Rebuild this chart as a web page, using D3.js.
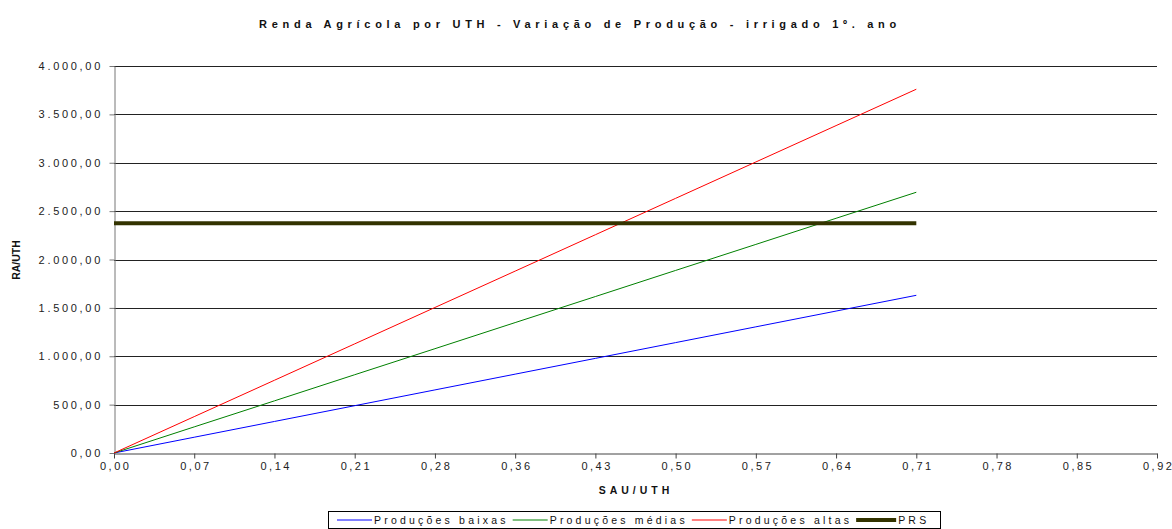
<!DOCTYPE html>
<html><head><meta charset="utf-8">
<script src="https://cdn.jsdelivr.net/npm/d3@7/dist/d3.min.js"></script>
<style>
body{margin:0;background:#fff;}
text{font-family:"Liberation Sans",Arial,sans-serif;}
</style></head>
<body><svg id="c" width="1172" height="529"></svg>
<script>
const categories = ["0,00","0,07","0,14","0,21","0,28","0,36","0,43","0,50","0,57","0,64","0,71","0,78","0,85","0,92"];
const baixas = [0,163,326,489,652,815,978,1141,1304,1467,1630];
const medias = [0,270,539,809,1078,1348,1617,1887,2156,2426,2695];
const altas  = [0,376,752,1128,1504,1880,2256,2632,3008,3384,3760];
const prs    = [2375,2375,2375,2375,2375,2375,2375,2375,2375,2375,2375];
const yTicks = [0,500,1000,1500,2000,2500,3000,3500,4000];
const seriesNames = ["Produções baixas","Produções médias","Produções altas","PRS"];

const svg = d3.select("#c");
const L=114, R=1157, T=66, B=453;
const x = d3.scalePoint().domain(categories).range([L,R]);
const y = d3.scaleLinear().domain([0,4000]).range([B,T]);
const loc = d3.formatLocale({decimal:",",thousands:".",grouping:[3],currency:["",""]});
const fmt = loc.format(",.2f");

// gridlines
svg.append("g").selectAll("line").data(yTicks.filter(d=>d>0)).join("line")
  .attr("x1",L).attr("x2",R).attr("y1",d=>Math.round(y(d))+0.5).attr("y2",d=>Math.round(y(d))+0.5)
  .attr("stroke","#222").attr("stroke-width",1);

// y axis
const ya = svg.append("g").attr("transform",`translate(${L+0.5},0)`)
  .call(d3.axisLeft(y).tickValues(yTicks).tickFormat(fmt).tickSize(5).tickSizeOuter(0));
ya.select(".domain").attr("stroke","#777");
ya.selectAll(".tick line").attr("stroke","#777");
ya.selectAll(".tick text").attr("font-size","11px").attr("letter-spacing","2.7px").attr("fill","#222").attr("dx","-3.5");

// x axis
const xa = svg.append("g").attr("transform",`translate(0,${B+0.5})`)
  .call(d3.axisBottom(x).tickSize(5).tickSizeOuter(0));
xa.select(".domain").attr("stroke","#444");
xa.selectAll(".tick line").attr("stroke","#444");
xa.selectAll(".tick text").attr("font-size","11px").attr("letter-spacing","2.5px").attr("fill","#222").attr("dy","8").attr("dx","1.2");

const line = d3.line().x((d,i)=>x(categories[i])).y(d=>y(d));
const series = [
  {name:seriesNames[0],data:baixas,color:"#0000ff",w:1},
  {name:seriesNames[1],data:medias,color:"#008000",w:1},
  {name:seriesNames[2],data:altas,color:"#ff0000",w:1},
  {name:seriesNames[3],data:prs,color:"#333300",w:4}
];
series.forEach(s=>{
  svg.append("path").attr("d",line(s.data)).attr("fill","none")
    .attr("stroke",s.color).attr("stroke-width",s.w);
});

// titles
svg.append("text").attr("x",580).attr("y",28).attr("text-anchor","middle")
  .attr("font-size","11px").attr("font-weight","bold").attr("letter-spacing","4.7px").attr("fill","#111")
  .text("Renda Agrícola por UTH - Variação de Produção - irrigado 1º. ano");
svg.append("text").attr("x",636).attr("y",494).attr("text-anchor","middle")
  .attr("font-size","10.5px").attr("font-weight","bold").attr("letter-spacing","4px").attr("fill","#111")
  .text("SAU/UTH");
svg.append("text").attr("transform","translate(20,260) rotate(-90)").attr("text-anchor","middle")
  .attr("font-size","10.5px").attr("font-weight","bold").attr("fill","#111")
  .text("RA/UTH");

// legend
const lg = svg.append("g");
lg.append("rect").attr("x",328.5).attr("y",511.5).attr("width",612).attr("height",17)
  .attr("fill","#fff").attr("stroke","#000");
let lx = 337;
series.forEach(s=>{
  const lw = s.w>1?40:35;
  lg.append("line").attr("x1",lx).attr("x2",lx+lw).attr("y1",520).attr("y2",520)
    .attr("stroke",s.color).attr("stroke-width",s.w);
  const t = lg.append("text").attr("x",lx+lw+2).attr("y",524).attr("font-size","10.5px")
    .attr("letter-spacing","3.2px").attr("fill","#111").text(s.name);
  lx = lx+lw+2+t.node().getComputedTextLength()+4;
});
</script></body></html>
